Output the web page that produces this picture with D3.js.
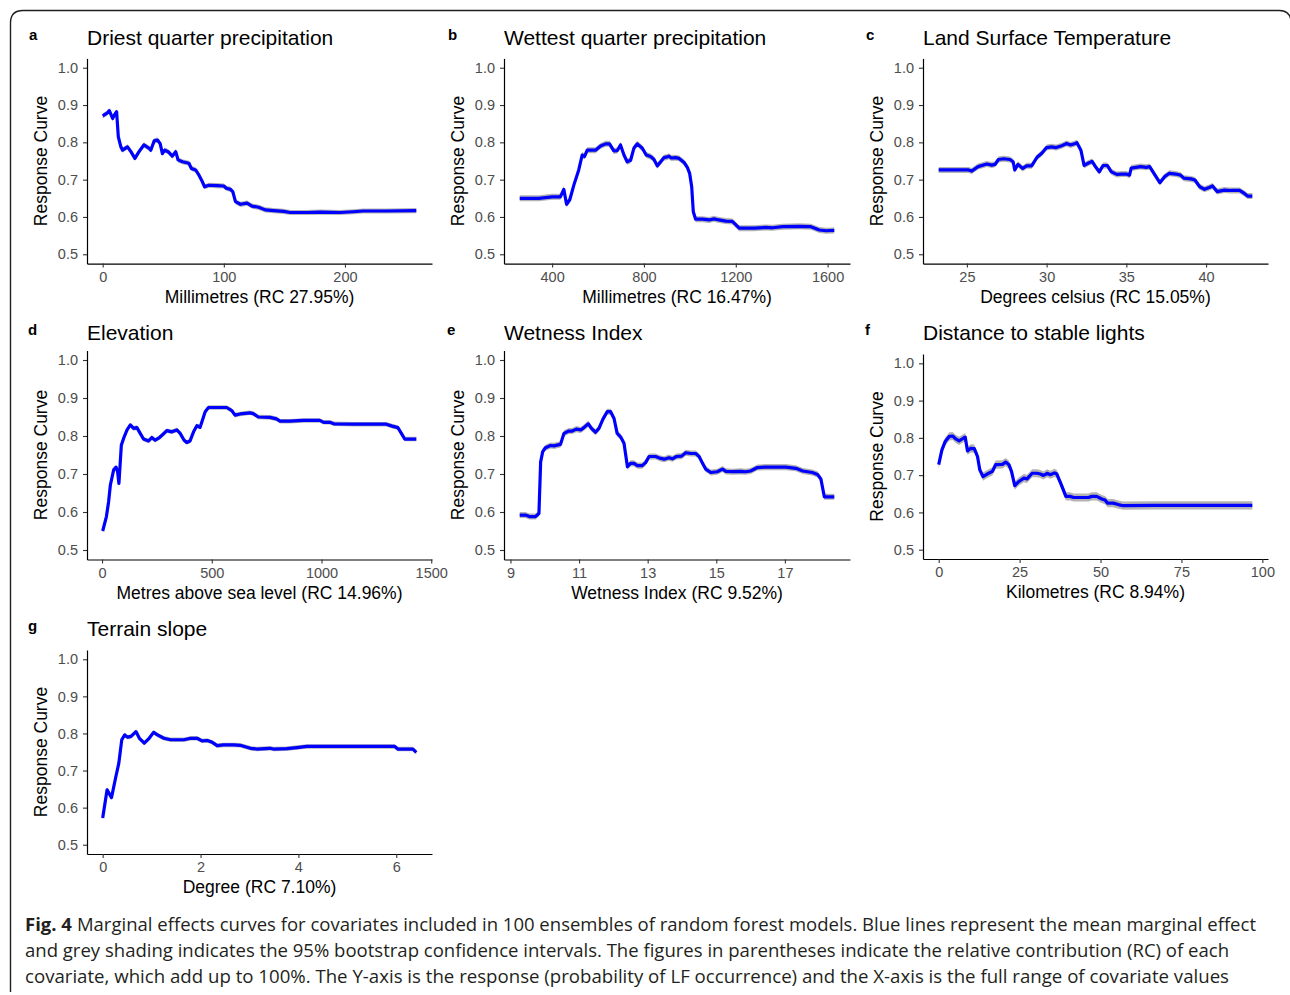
<!DOCTYPE html>
<html>
<head>
<meta charset="utf-8">
<script src="https://cdn.jsdelivr.net/npm/d3@7"></script>
<style>
  body { margin: 0; background: #fff; }
  svg { display: block; }
</style>
</head>
<body>
<div id="chart"></div>
<script>
// Response curves, [covariate value, response]
const driestCurve = [[0,0.871],[3.6,0.878],[5.5,0.885],[8.2,0.864],[9.6,0.873],[11.5,0.882],[12.9,0.815],[15,0.788],[16.4,0.779],[20.5,0.788],[23.3,0.775],[26.6,0.757],[30,0.775],[34,0.793],[38.4,0.784],[39.7,0.779],[42.5,0.804],[45.2,0.806],[47.4,0.797],[49.3,0.770],[51.2,0.779],[54,0.775],[57.5,0.763],[60.3,0.775],[62.2,0.753],[65.8,0.748],[68.5,0.746],[71.2,0.744],[73.2,0.730],[76.7,0.726],[79.5,0.712],[82.2,0.695],[84.1,0.681],[87.7,0.685],[94.5,0.684],[100,0.683],[102,0.677],[105.5,0.674],[107.4,0.668],[109.6,0.641],[113.7,0.634],[119.2,0.637],[123.3,0.629],[128.8,0.626],[134.2,0.619],[141.1,0.617],[149.3,0.615],[154.8,0.612],[168.5,0.612],[179.5,0.613],[195.9,0.612],[206.8,0.614],[215,0.616],[234,0.616],[258.9,0.617]];

const wettestCurve = [[259,0.650],[342,0.650],[400,0.654],[436,0.654],[451,0.674],[463,0.634],[477,0.646],[495,0.686],[516,0.726],[531,0.766],[541,0.762],[553,0.779],[572,0.779],[589,0.779],[611,0.790],[633,0.796],[650,0.796],[669,0.777],[684,0.778],[698,0.793],[713,0.766],[727,0.748],[742,0.752],[756,0.784],[771,0.796],[793,0.784],[810,0.766],[829,0.762],[844,0.754],[858,0.737],[873,0.748],[887,0.759],[902,0.761],[909,0.763],[919,0.758],[938,0.759],[953,0.757],[975,0.746],[989,0.733],[999,0.717],[1008,0.681],[1015,0.614],[1025,0.594],[1055,0.594],[1084,0.592],[1105,0.595],[1127,0.592],[1156,0.589],[1185,0.588],[1215,0.570],[1244,0.570],[1280,0.570],[1331,0.572],[1360,0.571],[1404,0.574],[1476,0.575],[1527,0.574],[1564,0.565],[1593,0.563],[1629,0.564]];

const lstCurve = [[23.23,0.726],[25.1,0.726],[25.3,0.723],[25.7,0.735],[26.25,0.742],[26.56,0.739],[26.77,0.741],[26.98,0.754],[27.3,0.756],[27.7,0.754],[27.9,0.748],[28.0,0.726],[28.2,0.741],[28.5,0.730],[28.75,0.737],[29.06,0.737],[29.4,0.760],[29.7,0.771],[30.0,0.786],[30.3,0.788],[30.6,0.786],[30.9,0.790],[31.25,0.797],[31.5,0.793],[31.8,0.797],[31.9,0.799],[32.15,0.779],[32.35,0.738],[32.6,0.744],[32.85,0.749],[33.06,0.735],[33.3,0.721],[33.54,0.738],[33.8,0.738],[34.06,0.721],[34.4,0.714],[34.7,0.715],[35.0,0.715],[35.2,0.712],[35.3,0.731],[35.6,0.733],[35.9,0.735],[36.25,0.733],[36.46,0.735],[36.8,0.712],[37.1,0.692],[37.4,0.708],[37.7,0.717],[38.1,0.715],[38.4,0.712],[38.6,0.704],[39.06,0.702],[39.3,0.699],[39.6,0.681],[39.9,0.674],[40.2,0.679],[40.4,0.683],[40.7,0.668],[41.15,0.672],[41.56,0.671],[42.1,0.671],[42.4,0.663],[42.6,0.656],[42.9,0.656]];

const elevationCurve = [[3,0.550],[20,0.588],[30,0.627],[38,0.671],[53,0.711],[64,0.718],[71,0.706],[77,0.675],[88,0.776],[101,0.798],[114,0.816],[129,0.829],[144,0.820],[159,0.822],[174,0.807],[189,0.792],[212,0.787],[227,0.796],[242,0.789],[262,0.796],[277,0.804],[295,0.814],[318,0.811],[341,0.816],[356,0.807],[374,0.789],[386,0.783],[401,0.787],[417,0.811],[432,0.827],[447,0.823],[470,0.864],[485,0.875],[508,0.875],[538,0.875],[568,0.875],[591,0.867],[606,0.855],[629,0.858],[674,0.861],[689,0.859],[712,0.850],[765,0.849],[795,0.845],[811,0.839],[856,0.839],[917,0.841],[992,0.841],[1010,0.836],[1038,0.836],[1056,0.832],[1144,0.831],[1295,0.831],[1322,0.826],[1348,0.822],[1368,0.803],[1379,0.792],[1432,0.792]];

const wetnessCurve = [[9.27,0.592],[9.44,0.592],[9.55,0.588],[9.73,0.588],[9.83,0.596],[9.88,0.732],[9.94,0.759],[10.02,0.769],[10.17,0.775],[10.27,0.774],[10.36,0.776],[10.46,0.778],[10.56,0.807],[10.7,0.813],[10.8,0.813],[10.92,0.818],[11.05,0.816],[11.14,0.822],[11.27,0.832],[11.36,0.820],[11.48,0.810],[11.58,0.820],[11.7,0.845],[11.82,0.864],[11.92,0.864],[12.02,0.846],[12.11,0.807],[12.21,0.798],[12.31,0.781],[12.36,0.750],[12.41,0.719],[12.5,0.728],[12.6,0.728],[12.7,0.722],[12.84,0.722],[12.94,0.730],[13.04,0.746],[13.23,0.746],[13.38,0.741],[13.48,0.739],[13.62,0.743],[13.72,0.740],[13.84,0.746],[13.99,0.747],[14.11,0.756],[14.26,0.754],[14.4,0.754],[14.5,0.746],[14.6,0.728],[14.69,0.713],[14.84,0.704],[15.03,0.706],[15.18,0.713],[15.28,0.707],[15.47,0.706],[15.72,0.707],[15.86,0.706],[16.0,0.708],[16.2,0.717],[16.4,0.718],[16.64,0.718],[17.03,0.718],[17.32,0.715],[17.52,0.708],[17.8,0.704],[17.95,0.699],[18.05,0.687],[18.15,0.640],[18.44,0.640]];

const lightsCurve = [[0,0.728],[1.0,0.768],[2.0,0.790],[3.3,0.804],[4.3,0.805],[5.3,0.797],[6.3,0.792],[7.6,0.799],[8.2,0.802],[8.9,0.765],[9.9,0.772],[11.0,0.771],[12.0,0.750],[12.7,0.714],[13.7,0.696],[15.0,0.703],[16.6,0.710],[17.6,0.728],[19.7,0.729],[20.7,0.735],[21.7,0.728],[22.5,0.710],[23.5,0.672],[24.8,0.683],[26.3,0.692],[27.3,0.690],[28.9,0.705],[30.4,0.705],[31.4,0.703],[32.4,0.699],[33.5,0.705],[34.5,0.701],[35.8,0.706],[36.5,0.703],[37.9,0.674],[39.3,0.643],[40.6,0.643],[41.7,0.640],[44.2,0.640],[46.3,0.640],[47.3,0.643],[48.8,0.643],[50.4,0.636],[51.4,0.633],[52.2,0.625],[53.9,0.625],[55.5,0.621],[57.0,0.618],[66.7,0.619],[96.9,0.619]];

const slopeCurve = [[0,0.572],[0.09,0.648],[0.18,0.627],[0.27,0.684],[0.33,0.720],[0.39,0.783],[0.45,0.796],[0.51,0.790],[0.58,0.792],[0.68,0.805],[0.75,0.787],[0.85,0.774],[0.95,0.787],[1.04,0.803],[1.12,0.796],[1.25,0.787],[1.39,0.783],[1.53,0.783],[1.66,0.783],[1.80,0.787],[1.93,0.787],[2.03,0.780],[2.14,0.781],[2.24,0.776],[2.34,0.767],[2.47,0.769],[2.68,0.769],[2.81,0.768],[3.02,0.760],[3.15,0.758],[3.42,0.760],[3.49,0.758],[3.76,0.759],[3.97,0.762],[4.17,0.765],[4.44,0.765],[4.85,0.765],[5.66,0.765],[5.97,0.765],[6.03,0.758],[6.34,0.758],[6.41,0.749]];

// half-width of the grey bootstrap band per panel
const ciHalfWidths = [0.007, 0.008, 0.008, 0.006, 0.008, 0.011, 0.006];

const panelLetters = ["a", "b", "c", "d", "e", "f", "g"];
const panelTitles = ["Driest quarter precipitation", "Wettest quarter precipitation", "Land Surface Temperature",
  "Elevation", "Wetness Index", "Distance to stable lights", "Terrain slope"];
const xAxisTitles = ["Millimetres (RC 27.95%)", "Millimetres (RC 16.47%)", "Degrees celsius (RC 15.05%)",
  "Metres above sea level (RC 14.96%)", "Wetness Index (RC 9.52%)", "Kilometres (RC 8.94%)", "Degree (RC 7.10%)"];
const xTickValues = [[0, 100, 200], [400, 800, 1200, 1600], [25, 30, 35, 40],
  [0, 500, 1000, 1500], [9, 11, 13, 15, 17], [0, 25, 50, 75, 100], [0, 2, 4, 6]];
const yTickValues = [0.5, 0.6, 0.7, 0.8, 0.9, 1.0];
const yLimits = [0.5, 1.0];

const captionLines = [
  "Marginal effects curves for covariates included in 100 ensembles of random forest models. Blue lines represent the mean marginal effect",
  "and grey shading indicates the 95% bootstrap confidence intervals. The figures in parentheses indicate the relative contribution (RC) of each",
  "covariate, which add up to 100%. The Y-axis is the response (probability of LF occurrence) and the X-axis is the full range of covariate values"
];

const curves = [driestCurve, wettestCurve, lstCurve, elevationCurve, wetnessCurve, lightsCurve, slopeCurve];

// plot boxes (panel area in px)
const boxes = [
  { l: 87, r: 432, t: 58.4, b: 263.6, title: 45, letterX: 29 },
  { l: 504, r: 850, t: 58.4, b: 263.6, title: 45, letterX: 448 },
  { l: 923, r: 1268, t: 58.4, b: 263.6, title: 45, letterX: 866 },
  { l: 87, r: 432, t: 350.5, b: 559.5, title: 340, letterX: 28 },
  { l: 504, r: 850, t: 350.5, b: 559.5, title: 340, letterX: 447 },
  { l: 923, r: 1268, t: 354, b: 559, title: 340, letterX: 865 },
  { l: 87, r: 432, t: 650, b: 854, title: 636, letterX: 28 }
];

const width = 1290, height = 995;
const font = "'Liberation Sans', Arial, Helvetica, sans-serif";

const svg = d3.select("#chart").append("svg")
  .attr("width", width)
  .attr("height", height)
  .style("font-family", font);

// outer frame with rounded top corners
svg.append("path")
  .attr("d", "M10.5,992 L10.5,23 Q10.5,10.5 23,10.5 L1279,10.5 Q1290,10.5 1291,21")
  .attr("fill", "none")
  .attr("stroke", "#231f20")
  .attr("stroke-width", 1.4);

curves.forEach((data, i) => {
  const box = boxes[i];
  const ext = d3.extent(data, d => d[0]);
  const pad = (ext[1] - ext[0]) * 0.05;
  const yPad = (yLimits[1] - yLimits[0]) * 0.05;

  const x = d3.scaleLinear().domain([ext[0] - pad, ext[1] + pad]).range([box.l, box.r]);
  const y = d3.scaleLinear().domain([yLimits[0] - yPad, yLimits[1] + yPad]).range([box.b, box.t]);

  const g = svg.append("g");

  // bootstrap band
  const ci = ciHalfWidths[i];
  g.append("path")
    .datum(data)
    .attr("fill", "#b3b3b3")
    .attr("d", d3.area().x(d => x(d[0])).y0(d => y(d[1] - ci)).y1(d => y(d[1] + ci)));

  // mean curve
  g.append("path")
    .datum(data)
    .attr("fill", "none")
    .attr("stroke", "#0000ff")
    .attr("stroke-width", 3.2)
    .attr("stroke-linejoin", "round")
    .attr("d", d3.line().x(d => x(d[0])).y(d => y(d[1])));

  // axes
  const yAxis = g.append("g")
    .attr("transform", `translate(${box.l},0)`)
    .call(d3.axisLeft(y).tickValues(yTickValues).tickFormat(d3.format(".1f"))
      .tickSizeInner(4).tickSizeOuter(0).tickPadding(5));

  const xAxis = g.append("g")
    .attr("transform", `translate(0,${box.b})`)
    .call(d3.axisBottom(x).tickValues(xTickValues[i]).tickFormat(d => String(d))
      .tickSizeInner(4).tickSizeOuter(0).tickPadding(4));

  [yAxis, xAxis].forEach(ax => {
    ax.select(".domain").attr("stroke", "#000").attr("stroke-width", 1.2);
    ax.selectAll(".tick line").attr("stroke", "#333").attr("stroke-width", 1.1);
    ax.selectAll(".tick text")
      .attr("fill", "#4d4d4d")
      .style("font-size", "14.5px")
      .style("font-family", font);
  });

  // panel letter + title
  g.append("text")
    .attr("x", box.letterX)
    .attr("y", box.title - 5)
    .style("font-size", "15px")
    .style("font-weight", "bold")
    .text(panelLetters[i]);

  g.append("text")
    .attr("x", box.l)
    .attr("y", box.title)
    .style("font-size", "21px")
    .text(panelTitles[i]);

  // axis titles
  g.append("text")
    .attr("x", (box.l + box.r) / 2)
    .attr("y", box.b + 39)
    .attr("text-anchor", "middle")
    .style("font-size", "17.5px")
    .text(xAxisTitles[i]);

  g.append("text")
    .attr("transform", `translate(${box.l - 40},${(box.t + box.b) / 2}) rotate(-90)`)
    .attr("text-anchor", "middle")
    .style("font-size", "17.5px")
    .text("Response Curve");
});

// caption
const capFont = "'Open Sans', 'Noto Sans', sans-serif";
const capBaselines = [931, 957, 983];
const capEnds = [1256, 1229, 1229];

const figLabel = svg.append("text")
  .attr("x", 25)
  .attr("y", capBaselines[0])
  .style("font-family", capFont)
  .style("font-size", "18.5px")
  .style("font-weight", "bold")
  .attr("fill", "#231f20")
  .text("Fig. 4");

const labelEnd = 25 + figLabel.node().getComputedTextLength() + 5;

captionLines.forEach((line, i) => {
  const startX = i === 0 ? labelEnd : 25;
  svg.append("text")
    .attr("x", startX)
    .attr("y", capBaselines[i])
    .attr("textLength", capEnds[i] - startX)
    .attr("lengthAdjust", "spacingAndGlyphs")
    .style("font-family", capFont)
    .style("font-size", "18.5px")
    .attr("fill", "#231f20")
    .text(line);
});
</script>
</body>
</html>
